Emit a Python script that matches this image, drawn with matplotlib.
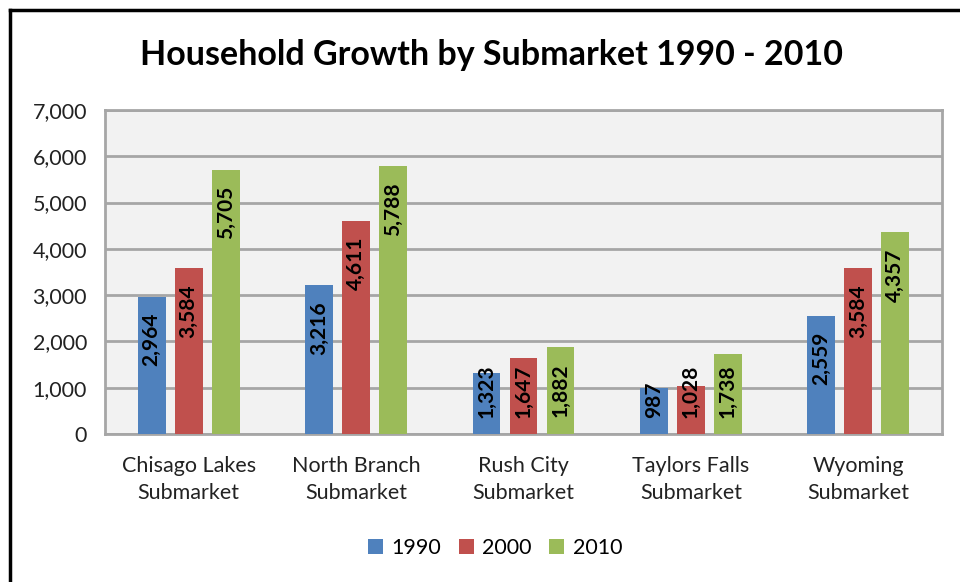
import matplotlib.pyplot as plt
import numpy as np
from matplotlib.lines import Line2D

plt.rcParams['font.family'] = ['Lato', 'DejaVu Sans']

categories = ["Chisago Lakes\nSubmarket", "North Branch\nSubmarket", "Rush City\nSubmarket",
              "Taylors Falls\nSubmarket", "Wyoming\nSubmarket"]
years = ["1990", "2000", "2010"]
hh_1990 = [2964, 3216, 1323, 987, 2559]
hh_2000 = [3584, 4611, 1647, 1028, 3584]
hh_2010 = [5705, 5788, 1882, 1738, 4357]
colors = ["#4F81BD", "#C0504D", "#9BBB59"]

fig = plt.figure(figsize=(9.6, 5.82), dpi=100)
ax = fig.add_axes([105 / 960, 1 - 434 / 582, 837 / 960, 324 / 582])

x = np.arange(len(categories))
step = 0.221
width = 0.167
series = [hh_1990, hh_2000, hh_2010]
for j, vals in enumerate(series):
    pos = x + (j - 1) * step
    ax.bar(pos, vals, width, color=colors[j], label=years[j], zorder=3)
    for p, v in zip(pos, vals):
        txt = f"{v:,}"
        # label inside the end of the bar, pushed up from the axis if it would not fit
        if v < 1880:
            ax.annotate(txt, (p, 0), xytext=(0, 16), textcoords='offset pixels',
                        rotation=90, ha='center', va='bottom', fontsize=15,
                        fontweight='bold', zorder=4)
        else:
            ax.annotate(txt, (p, v), xytext=(0, -16), textcoords='offset pixels',
                        rotation=90, ha='center', va='top', fontsize=15,
                        fontweight='bold', zorder=4)

ax.set_xlim(-0.5, len(categories) - 0.5)
ax.set_ylim(0, 7000)
ax.set_yticks(range(0, 7001, 1000))
ax.set_yticklabels([f"{t:,}" for t in range(0, 7001, 1000)])
ax.set_xticks(x)
ax.set_xticklabels(categories, linespacing=1.45)
ax.tick_params(axis='both', length=0, labelsize=15.5, colors='#222222')
ax.tick_params(axis='x', pad=16)
ax.tick_params(axis='y', pad=13)
ax.set_facecolor('#F2F2F2')
ax.grid(axis='y', color='#A6A6A6', linewidth=2, zorder=1)
for s in ax.spines.values():
    s.set_color('#A6A6A6')
    s.set_linewidth(2)

fig.text(491 / 960, 1 - 55 / 582, "Household Growth by Submarket 1990 - 2010",
         ha='center', va='center', fontsize=24.5, fontweight='bold')

ax.legend(loc='center', bbox_to_anchor=(495 / 960, 1 - 548 / 582), bbox_transform=fig.transFigure,
          ncol=3, frameon=False, fontsize=15.5, handlelength=0.7, handleheight=0.7,
          handletextpad=0.4, columnspacing=0.8)

fig.add_artist(Line2D([10 / 960, 1], [1 - 10 / 582, 1 - 10 / 582], color='black', linewidth=2.5,
                      transform=fig.transFigure))
fig.add_artist(Line2D([10 / 960, 10 / 960], [0, 1 - 10 / 582], color='black', linewidth=2.5,
                      transform=fig.transFigure))

fig.savefig("out.png", dpi=100)
